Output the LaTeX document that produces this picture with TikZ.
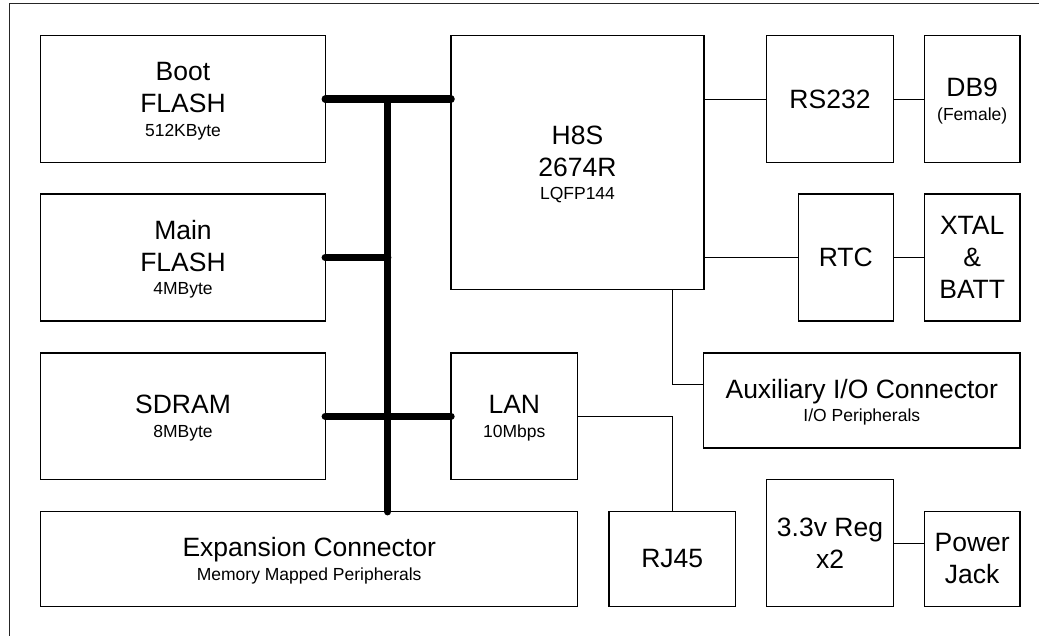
\documentclass[tikz,border=0pt]{standalone}
\usepackage{fontspec}
\setmainfont{Liberation Sans}
\newcommand\sm[1]{{\fontsize{17.5}{32}\selectfont\smash{#1}}}
\tikzset{
  box/.style={draw, line width=1.2pt, rectangle, inner sep=0pt, outer sep=0pt, align=center,
              font=\fontsize{26.5}{32}\selectfont},
  bus/.style={line width=7.5pt, line cap=round},
  wire/.style={line width=1pt},
  frame/.style={line width=1pt, black!85}
}
\begin{document}
\begin{tikzpicture}[x=1pt, y=-1pt]
\useasboundingbox (0,0) rectangle (1039,636);
\draw[frame] (9.3,636) -- (9.3,4) -- (1039,4);

% left column
\node[box, minimum width=284.6pt, minimum height=127pt] (boot) at (183,99.2) {Boot\\FLASH\\[-8.5pt]\sm{512KByte}};
\node[box, minimum width=284.6pt, minimum height=127pt] (main) at (183,257.5) {Main\\FLASH\\[-8.5pt]\sm{4MByte}};
\node[box, minimum width=284.6pt, minimum height=126.7pt] (sdram) at (183,416.3) {SDRAM\\[-8.5pt]\sm{8MByte}};
\node[box, minimum width=537pt, minimum height=94.6pt] (exp) at (309.2,559) {Expansion Connector\\[-8.5pt]\sm{Memory Mapped Peripherals}};

% centre
\node[box, minimum width=253pt, minimum height=254pt] (h8s) at (577.5,162.7) {H8S\\2674R\\[-8.5pt]\sm{LQFP144}};
\node[box, minimum width=126.7pt, minimum height=126.7pt] (lan) at (514.3,416.3) {LAN\\[-8.5pt]\sm{10Mbps}};
\node[box, minimum width=126.3pt, minimum height=94.6pt] (rj45) at (672.2,559) {RJ45};

% right
\node[box, minimum width=126.6pt, minimum height=127pt] (rs232) at (830,99.2) {RS232};
\node[box, minimum width=95.7pt, minimum height=127pt] (db9) at (972.2,99.2) {DB9\\[-8.5pt]\sm{(Female)}};
\node[box, minimum width=95pt, minimum height=127pt] (rtc) at (845.8,257.5) {RTC};
\node[box, minimum width=95.7pt, minimum height=127pt] (xtal) at (972.2,257.5) {XTAL\\\&\\BATT};
\node[box, minimum width=316.3pt, minimum height=95pt] (aux) at (861.8,400.5) {Auxiliary I/O Connector\\[-8.5pt]\sm{I/O Peripherals}};
\node[box, minimum width=126.6pt, minimum height=126.6pt] (reg) at (830,543) {3.3v Reg\\x2};
\node[box, minimum width=95.7pt, minimum height=94.6pt] (pwr) at (972.2,559) {Power\\Jack};

% bus
\coordinate (bt) at (387.7,99.2);
\draw[bus] (boot.east) -- (h8s.west |- boot.east);
\draw[bus] (main.east) -- (main.east -| bt);
\draw[bus] (sdram.east) -- (lan.west);
\draw[bus] (bt) -- (bt |- exp.north);

% wires
\draw[wire] (h8s.east |- rs232.west) -- (rs232.west);
\draw[wire] (rs232.east) -- (db9.west);
\draw[wire] (h8s.east |- rtc.west) -- (rtc.west);
\draw[wire] (rtc.east) -- (xtal.west);
\coordinate (auxin) at ([yshift=16.2pt]aux.west);
\draw[wire] (h8s.south -| rj45.north) |- (auxin);
\draw[wire] (lan.east) -| (rj45.north);
\draw[wire] (reg.east) -- (reg.east -| pwr.west);
\end{tikzpicture}
\end{document}
